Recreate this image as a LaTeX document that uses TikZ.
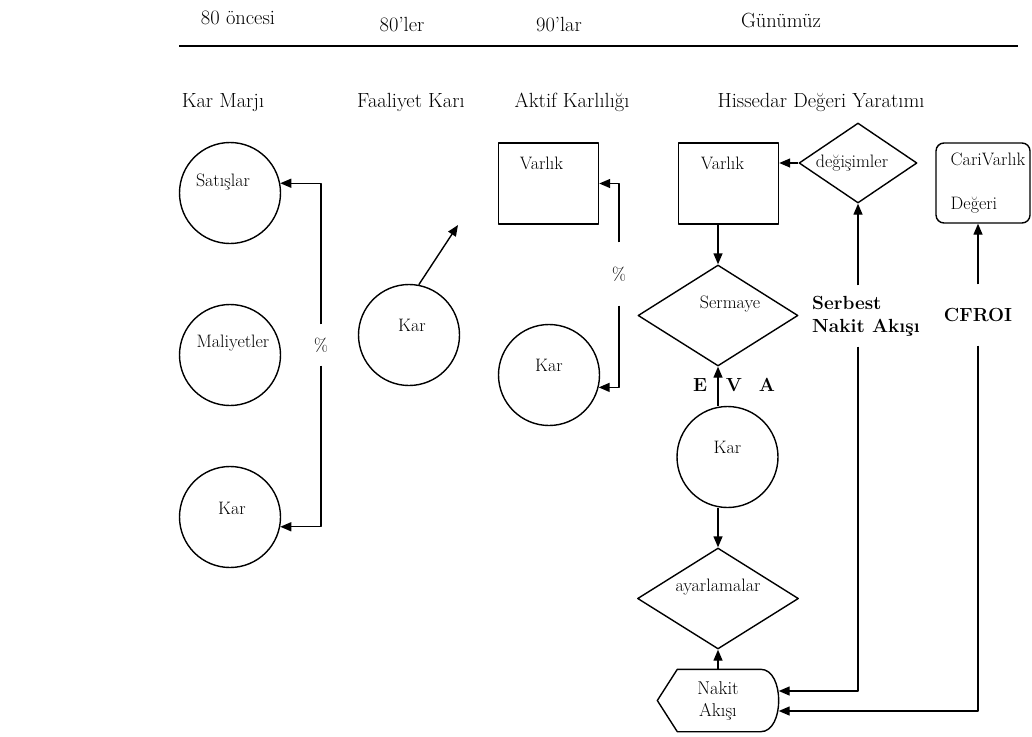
\documentclass[tikz,border=0pt]{standalone}
\usetikzlibrary{arrows.meta,shapes.geometric}
\begin{document}
\begin{tikzpicture}[x=1pt,y=-1pt,line width=1.4pt,line join=round,>={Triangle[length=11pt,width=9pt]},
  every node/.style={font=\fontsize{18}{21}\selectfont},
  head/.style={font=\fontsize{20.5}{24}\selectfont},
  ring/.style={circle,draw,minimum size=101pt,inner sep=0pt},
  box/.style={rectangle,draw,minimum width=100pt,minimum height=81pt,inner sep=0pt},
  rhomb/.style={diamond,draw,inner sep=0pt},
  bold/.style={font=\fontsize{19}{23}\selectfont\bfseries},
  gap/.style={minimum height=60pt,inner sep=0pt}]
  \useasboundingbox (0,0) rectangle (1032,736);

  % eras
  \node[head] (h80) at (238,18) {80 öncesi};
  \node[head] (h80s) at (402,25) {80’ler};
  \node[head] (h90s) at (559,25) {90’lar};
  \node[head] (hgun) at (781,20) {Günümüz};
  \draw[line width=1.6pt] (179,46) -- (1018,46);

  \node[head] (hkm) at (223,103) {Kar Marjı};
  \node[head] (hfk) at (411,102) {Faaliyet Karı};
  \node[head] (hak) at (572,102) {Aktif Karlılığı};
  \node[head] (hhd) at (821,102) {Hissedar Değeri Yaratımı};

  % kar marji
  \node[ring,label={[xshift=-7pt,yshift=11pt]center:Satışlar}] (sat) at (230,193) {};
  \node[ring,label={[xshift=3pt,yshift=12pt]center:Maliyetler}] (mal) at (230,355) {};
  \node[ring,label={[xshift=2pt,yshift=9pt]center:Kar}] (karA) at (230,517) {};
  \node[gap,minimum height=40pt] (pctA) at (321,345) {\%};
  \draw[->] (pctA.north) |- (sat.11);
  \draw[->] (pctA.south) |- (karA.-11);

  % faaliyet kari
  \node[ring,label={[xshift=3pt,yshift=10pt]center:Kar}] (karB) at (409,335) {};
  \coordinate (karBout) at (458,225);
  \draw[->] (karB.79) -- (karBout);

  % aktif karliligi
  \node[box,label={[xshift=-7pt,yshift=20pt]center:Varlık}] (varA) at (548.5,183.5) {};
  \node[ring,label={[yshift=10pt]center:Kar}] (karC) at (549,375) {};
  \node[gap,minimum height=62pt] (pctB) at (619,274) {\%};
  \draw[->] (pctB.north) |- (varA.east);
  \draw[->] (pctB.south) |- (karC.-14);

  % hissedar degeri
  \node[box,label={[xshift=-6pt,yshift=20pt]center:Varlık}] (varB) at (728.5,183.5) {};
  \node[rhomb,minimum width=160pt,minimum height=101pt,label={[xshift=12pt,yshift=11pt]center:Sermaye}] (serm) at (718,315.5) {};
  \node[ring,label={[yshift=10pt]center:Kar}] (karD) at (727.5,457) {};
  \node[rhomb,minimum width=161pt,minimum height=101pt,label={[yshift=11pt]center:ayarlamalar}] (ayar) at (718,598.5) {};
  \node[minimum width=120pt,minimum height=61pt,inner sep=0pt,align=center,font=\fontsize{18.5}{22}\selectfont] (nakit) at (718,700.5) {Nakit\\Akışı};
  \draw (nakit.west) -- ([xshift=20pt]nakit.north west) -- ([xshift=-18pt]nakit.north east)
    .. controls ([xshift=6pt]nakit.north east) and ([xshift=6pt]nakit.south east) .. ([xshift=-18pt]nakit.south east)
    -- ([xshift=20pt]nakit.south west) -- cycle;
  \draw[->] (varB.south -| serm.north) -- (serm.north);
  \draw[->] (karD.north -| serm.south) -- (serm.south);
  \draw[->] (karD.south -| ayar.north) -- (ayar.north);
  \draw[->] (nakit.north) -- (ayar.south);
  \foreach \l/\x in {E/700,V/734,A/767}
    \node[bold] (eva\l) at (\x,385) {\l};

  \node[rhomb,minimum width=118pt,minimum height=80pt,label={[xshift=-6pt]center:değişimler}] (degis) at (858,163) {};
  \draw[->] (degis.west) -- (degis.west -| varB.east);
  \node[bold,gap,align=left] (sna) at (866,316) {Serbest\\Nakit Akışı};
  \draw[->] (sna.north -| degis.south) -- (degis.south);
  \draw[->] (sna.south -| degis.south) |- ([yshift=9.5pt]nakit.east);

  \node[draw,rounded corners=8pt,minimum width=94pt,minimum height=80pt,inner sep=0pt,
    label={[xshift=5pt,align=left]center:CariVarlık\\[23pt]Değeri}] (cari) at (983,183) {};
  \node[bold,gap] (cfroi) at (978,315) {CFROI};
  \draw[->] (cfroi.north) -- (cfroi.north |- cari.south);
  \draw[->] (cfroi.south) |- ([yshift=-10.5pt]nakit.east);
\end{tikzpicture}
\end{document}
